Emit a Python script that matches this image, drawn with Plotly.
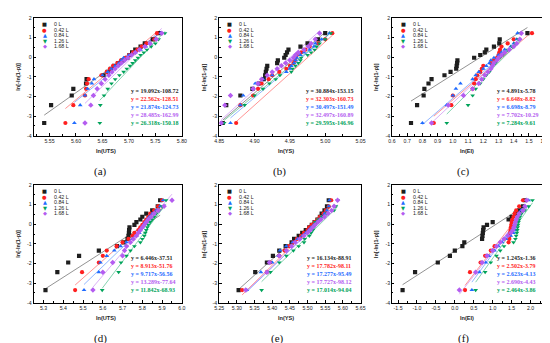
import plotly.graph_objects as go

W, H = 550, 343

# ---------------- data ----------------
# Weibull plotting positions ln[-ln(1-p)] (20 ranks, same for every series)
Y_RANK = [-3.35, -2.44, -1.95, -1.61, -1.34, -1.12, -0.92, -0.75, -0.59, -0.44,
          -0.30, -0.16, -0.03, 0.11, 0.24, 0.38, 0.54, 0.70, 0.91, 1.22]

SERIES = ["0 L", "0.42 L", "0.84 L", "1.26 L", "1.68 L"]

Y_TICKS = [-4, -3, -2, -1, 0, 1, 2]
Y_TICKTEXT = ["-4", "-3", "-2", "-1", "0", "1", "2"]

# (a) ln(UTS)
A_0L = [5.540, 5.553, 5.592, 5.595, 5.619, 5.620, 5.652, 5.660, 5.666, 5.672,
        5.680, 5.688, 5.697, 5.701, 5.706, 5.712, 5.722, 5.730, 5.745, 5.758]
A_042L = [5.580, 5.595, 5.617, 5.619, 5.621, 5.624, 5.648, 5.658, 5.664, 5.670,
          5.678, 5.685, 5.693, 5.700, 5.708, 5.716, 5.724, 5.733, 5.748, 5.753]
A_084L = [5.597, 5.608, 5.617, 5.622, 5.630, 5.634, 5.650, 5.660, 5.667, 5.674,
          5.681, 5.686, 5.690, 5.700, 5.712, 5.722, 5.732, 5.740, 5.750, 5.760]
A_126L = [5.645, 5.646, 5.653, 5.660, 5.667, 5.674, 5.682, 5.690, 5.696, 5.702,
          5.707, 5.712, 5.717, 5.722, 5.728, 5.734, 5.742, 5.750, 5.756, 5.768]
A_168L = [5.617, 5.628, 5.633, 5.640, 5.648, 5.655, 5.662, 5.668, 5.674, 5.680,
          5.686, 5.692, 5.698, 5.705, 5.712, 5.720, 5.730, 5.740, 5.752, 5.762]
A_SLOPE = [19.092, 22.562, 21.874, 28.485, 26.318]
A_ICPT = [108.72, 128.51, 124.73, 162.99, 150.18]
A_EQ_OF_SERIES = [0, 1, 2, 3, 4]
A_XTICKS = [5.55, 5.60, 5.65, 5.70, 5.75, 5.80]
A_XTICKTEXT = ["5.55", "5.60", "5.65", "5.70", "5.75", "5.80"]

# (b) ln(YS)
B_0L = [4.855, 4.860, 4.880, 4.897, 4.906, 4.913, 4.915, 4.916, 4.917, 4.918,
        4.932, 4.933, 4.942, 4.944, 4.946, 4.948, 4.965, 4.975, 4.990, 5.000]
B_042L = [4.874, 4.880, 4.898, 4.905, 4.910, 4.920, 4.925, 4.935, 4.945, 4.950,
          4.955, 4.957, 4.958, 4.960, 4.966, 4.972, 4.978, 4.990, 5.000, 5.010]
B_084L = [4.866, 4.880, 4.884, 4.898, 4.901, 4.912, 4.925, 4.945, 4.950, 4.952,
          4.956, 4.958, 4.960, 4.965, 4.970, 4.978, 4.984, 4.986, 4.995, 5.006]
B_126L = [4.857, 4.886, 4.900, 4.912, 4.921, 4.930, 4.936, 4.952, 4.954, 4.958,
          4.962, 4.965, 4.966, 4.975, 4.980, 4.985, 4.988, 4.992, 5.000, 5.008]
B_168L = [4.853, 4.858, 4.866, 4.898, 4.905, 4.910, 4.918, 4.925, 4.932, 4.938,
          4.944, 4.950, 4.955, 4.958, 4.962, 4.970, 4.976, 4.980, 4.986, 4.992]
B_SLOPE = [30.884, 32.303, 30.497, 32.497, 29.595]
B_ICPT = [153.15, 160.73, 151.49, 160.89, 146.96]
B_EQ_OF_SERIES = [0, 1, 2, 4, 3]
B_XTICKS = [4.85, 4.90, 4.95, 5.00, 5.05]
B_XTICKTEXT = ["4.85", "4.90", "4.95", "5.00", "5.05"]

# (c) ln(EI)
C_0L = [0.725, 0.765, 0.808, 0.813, 0.840, 0.860, 0.945, 0.985, 1.022, 1.025,
        1.028, 1.030, 1.140, 1.180, 1.210, 1.220, 1.270, 1.305, 1.308, 1.490]
C_042L = [0.875, 0.990, 1.000, 1.130, 1.140, 1.150, 1.160, 1.180, 1.190, 1.200,
          1.250, 1.270, 1.290, 1.300, 1.305, 1.310, 1.320, 1.360, 1.400, 1.520]
C_084L = [0.800, 0.960, 1.000, 1.020, 1.050, 1.130, 1.150, 1.170, 1.200, 1.220,
          1.240, 1.250, 1.270, 1.300, 1.320, 1.340, 1.380, 1.400, 1.420, 1.425]
C_126L = [0.960, 1.100, 1.130, 1.150, 1.180, 1.200, 1.220, 1.240, 1.250, 1.260,
          1.280, 1.290, 1.310, 1.330, 1.345, 1.360, 1.390, 1.410, 1.430, 1.445]
C_168L = [0.860, 0.970, 1.070, 1.130, 1.170, 1.190, 1.210, 1.230, 1.250, 1.260,
          1.270, 1.290, 1.300, 1.320, 1.340, 1.370, 1.400, 1.420, 1.440, 1.450]
C_SLOPE = [4.891, 6.648, 6.698, 7.702, 7.284]
C_ICPT = [5.78, 8.82, 8.79, 10.29, 9.61]
C_EQ_OF_SERIES = [0, 1, 2, 3, 4]
C_XTICKS = [0.6, 0.7, 0.8, 0.9, 1.0, 1.1, 1.2, 1.3, 1.4, 1.5, 1.6]
C_XTICKTEXT = ["0.6", "0.7", "0.8", "0.9", "1.0", "1.1", "1.2", "1.3", "1.4", "1.5", "1.6"]

# (d) ln(UTS)
D_0L = [5.310, 5.370, 5.425, 5.480, 5.580, 5.672, 5.705, 5.725, 5.730, 5.732,
        5.733, 5.735, 5.760, 5.770, 5.790, 5.800, 5.820, 5.850, 5.878, 5.890]
D_042L = [5.460, 5.495, 5.580, 5.600, 5.620, 5.670, 5.700, 5.730, 5.750, 5.760,
          5.780, 5.790, 5.800, 5.810, 5.820, 5.830, 5.840, 5.860, 5.880, 5.900]
D_084L = [5.505, 5.580, 5.588, 5.620, 5.658, 5.690, 5.720, 5.750, 5.770, 5.785,
          5.790, 5.800, 5.808, 5.815, 5.825, 5.835, 5.850, 5.870, 5.890, 5.905]
D_126L = [5.597, 5.680, 5.692, 5.720, 5.740, 5.760, 5.790, 5.800, 5.810, 5.815,
          5.820, 5.825, 5.830, 5.840, 5.850, 5.860, 5.870, 5.885, 5.900, 5.920]
D_168L = [5.550, 5.600, 5.650, 5.700, 5.710, 5.720, 5.740, 5.755, 5.770, 5.780,
          5.790, 5.800, 5.810, 5.820, 5.830, 5.845, 5.860, 5.880, 5.910, 5.950]
D_SLOPE = [6.446, 8.913, 9.717, 13.289, 11.842]
D_ICPT = [37.51, 51.76, 56.56, 77.64, 68.93]
D_EQ_OF_SERIES = [0, 1, 2, 3, 4]
D_XTICKS = [5.3, 5.4, 5.5, 5.6, 5.7, 5.8, 5.9, 6.0]
D_XTICKTEXT = ["5.3", "5.4", "5.5", "5.6", "5.7", "5.8", "5.9", "6.0"]

# (e) ln(YS)
E_0L = [5.305, 5.352, 5.385, 5.402, 5.420, 5.438, 5.455, 5.462, 5.475, 5.485,
        5.495, 5.505, 5.512, 5.520, 5.528, 5.535, 5.540, 5.548, 5.555, 5.560]
E_042L = [5.315, 5.385, 5.395, 5.420, 5.435, 5.448, 5.460, 5.470, 5.482, 5.490,
          5.500, 5.505, 5.512, 5.520, 5.528, 5.535, 5.545, 5.552, 5.560, 5.567]
E_084L = [5.328, 5.368, 5.400, 5.418, 5.422, 5.440, 5.458, 5.472, 5.485, 5.495,
          5.503, 5.510, 5.518, 5.525, 5.532, 5.540, 5.548, 5.555, 5.560, 5.562]
E_126L = [5.370, 5.395, 5.420, 5.440, 5.460, 5.475, 5.490, 5.492, 5.505, 5.510,
          5.515, 5.518, 5.520, 5.522, 5.530, 5.540, 5.555, 5.575, 5.580, 5.585]
E_168L = [5.325, 5.385, 5.392, 5.420, 5.440, 5.455, 5.465, 5.478, 5.490, 5.500,
          5.508, 5.515, 5.522, 5.530, 5.538, 5.548, 5.558, 5.568, 5.575, 5.585]
E_SLOPE = [16.134, 17.782, 17.277, 17.727, 17.014]
E_ICPT = [88.91, 98.11, 95.49, 98.12, 94.04]
E_EQ_OF_SERIES = [0, 1, 2, 3, 4]
E_XTICKS = [5.25, 5.30, 5.35, 5.40, 5.45, 5.50, 5.55, 5.60, 5.65]
E_XTICKTEXT = ["5.25", "5.30", "5.35", "5.40", "5.45", "5.50", "5.55", "5.60", "5.65"]

# (f) ln(EI)
F_0L = [-1.380, -1.050, -0.450, -0.130, 0.000, 0.200, 0.250, 0.720, 0.730, 0.740,
        0.750, 0.760, 0.850, 1.000, 1.420, 1.500, 1.600, 1.700, 1.800, 1.850]
F_042L = [0.270, 0.400, 0.680, 0.800, 0.950, 1.050, 1.420, 1.440, 1.450, 1.460,
          1.470, 1.480, 1.490, 1.500, 1.520, 1.550, 1.580, 1.620, 1.700, 1.800]
F_084L = [0.450, 0.650, 0.820, 0.900, 1.050, 1.150, 1.250, 1.350, 1.480, 1.550,
          1.580, 1.600, 1.610, 1.620, 1.640, 1.660, 1.700, 1.750, 1.850, 1.950]
F_126L = [0.550, 0.800, 0.950, 1.100, 1.200, 1.300, 1.550, 1.600, 1.620, 1.640,
          1.650, 1.660, 1.670, 1.680, 1.700, 1.720, 1.760, 1.850, 1.950, 2.050]
F_168L = [0.120, 0.550, 0.720, 0.850, 1.000, 1.100, 1.200, 1.300, 1.400, 1.480,
          1.530, 1.560, 1.580, 1.600, 1.620, 1.650, 1.700, 1.800, 1.850, 1.900]
F_SLOPE = [1.245, 2.502, 2.623, 2.690, 2.464]
F_ICPT = [1.36, 3.79, 4.13, 4.43, 3.86]
F_EQ_OF_SERIES = [0, 1, 2, 3, 4]
F_XTICKS = [-1.5, -1.0, -0.5, 0.0, 0.5, 1.0, 1.5, 2.0]
F_XTICKTEXT = ["-1.5", "-1.0", "-0.5", "0.0", "0.5", "1.0", "1.5", "2.0"]

# ---------------- styling ----------------
COLORS = ["#1e1e1e", "#ff1f1f", "#1f6bff", "#00a35a", "#b45cf0"]
EQ_COLORS = ["#1e1e1e", "#ff1f1f", "#1f6bff", "#b45cf0", "#00a35a"]
SYMBOLS = ["square", "circle", "triangle-up", "triangle-down", "diamond"]
GLYPHS = ["■", "●", "▲", "▼", "◆"]
SANS = "Liberation Sans, Arial, sans-serif"
SERIF = "Liberation Serif, Times New Roman, serif"

COL_PX = [(21, 172), (210, 354), (386, 541)]
ROW_PX = [(7, 127), (177, 297)]

PANELS = [
    dict(label="(a)", xt="ln(UTS)", data=[A_0L, A_042L, A_084L, A_126L, A_168L],
         slope=A_SLOPE, icpt=A_ICPT, eqmap=A_EQ_OF_SERIES, xr=[5.52, 5.80],
         tv=A_XTICKS, tt=A_XTICKTEXT, minor=0.025, eqx=0.64, lx=0.45, tx=0.49),
    dict(label="(b)", xt="ln(YS)", data=[B_0L, B_042L, B_084L, B_126L, B_168L],
         slope=B_SLOPE, icpt=B_ICPT, eqmap=B_EQ_OF_SERIES, xr=[4.85, 5.05],
         tv=B_XTICKS, tt=B_XTICKTEXT, minor=0.025, eqx=0.60, lx=0.43, tx=0.47),
    dict(label="(c)", xt="ln(EI)", data=[C_0L, C_042L, C_084L, C_126L, C_168L],
         slope=C_SLOPE, icpt=C_ICPT, eqmap=C_EQ_OF_SERIES, xr=[0.6, 1.6],
         tv=C_XTICKS, tt=C_XTICKTEXT, minor=0.05, eqx=0.68, lx=0.47, tx=0.49),
    dict(label="(d)", xt="ln(UTS)", data=[D_0L, D_042L, D_084L, D_126L, D_168L],
         slope=D_SLOPE, icpt=D_ICPT, eqmap=D_EQ_OF_SERIES, xr=[5.25, 6.0],
         tv=D_XTICKS, tt=D_XTICKTEXT, minor=0.05, eqx=0.64, lx=0.45, tx=0.49),
    dict(label="(e)", xt="ln(YS)", data=[E_0L, E_042L, E_084L, E_126L, E_168L],
         slope=E_SLOPE, icpt=E_ICPT, eqmap=E_EQ_OF_SERIES, xr=[5.25, 5.65],
         tv=E_XTICKS, tt=E_XTICKTEXT, minor=0.025, eqx=0.61, lx=0.41, tx=0.47),
    dict(label="(f)", xt="ln(EI)", data=[F_0L, F_042L, F_084L, F_126L, F_168L],
         slope=F_SLOPE, icpt=F_ICPT, eqmap=F_EQ_OF_SERIES, xr=[-1.66, 2.36],
         tv=F_XTICKS, tt=F_XTICKTEXT, minor=0.25, eqx=0.68, lx=0.47, tx=0.49),
]

fig = go.Figure()
annotations = []
layout_axes = {}

for p, P in enumerate(PANELS):
    n = p + 1
    xa = "x" if n == 1 else f"x{n}"
    ya = "y" if n == 1 else f"y{n}"
    c0, c1 = COL_PX[p % 3]
    r0, r1 = ROW_PX[p // 3]
    xdom = [c0 / W, c1 / W]
    ydom = [1 - r1 / H, 1 - r0 / H]

    # fitted straight lines (from the printed equations, over each series' x-span)
    for i, xs in enumerate(P["data"]):
        k = P["eqmap"][i]
        xl = [min(xs), max(xs)]
        yl = [P["slope"][k] * v - P["icpt"][k] for v in xl]
        fig.add_trace(go.Scatter(x=xl, y=yl, mode="lines", xaxis=xa, yaxis=ya,
                                 line=dict(color=COLORS[i], width=0.8),
                                 opacity=0.6, showlegend=False, hoverinfo="skip"))
    # data points
    for i, xs in enumerate(P["data"]):
        fig.add_trace(go.Scatter(x=xs, y=Y_RANK, mode="markers", name=SERIES[i],
                                 xaxis=xa, yaxis=ya, showlegend=False,
                                 marker=dict(symbol=SYMBOLS[i], size=4.2,
                                             color=COLORS[i], line=dict(width=0))))

    axis_common = dict(showline=True, linecolor="black", linewidth=0.8, mirror=True,
                       showgrid=False, zeroline=False, ticks="inside", ticklen=2.5,
                       tickwidth=0.6, tickcolor="black",
                       tickfont=dict(family=SANS, size=5.2, color="#222"))
    layout_axes["xaxis" if n == 1 else f"xaxis{n}"] = dict(
        axis_common, domain=xdom, anchor=ya, range=P["xr"], tickmode="array",
        tickvals=P["tv"], ticktext=P["tt"],
        minor=dict(ticks="inside", ticklen=1.5, tickwidth=0.5, tickcolor="black",
                   dtick=P["minor"], tick0=P["tv"][0]))
    layout_axes["yaxis" if n == 1 else f"yaxis{n}"] = dict(
        axis_common, domain=ydom, anchor=xa, range=[-4, 2], tickmode="array",
        tickvals=Y_TICKS, ticktext=Y_TICKTEXT,
        minor=dict(ticks="inside", ticklen=1.5, tickwidth=0.5, tickcolor="black",
                   dtick=0.5, tick0=-4))

    # in-plot legend (symbol + label)
    for i in range(5):
        yy = 0.946 - 0.047 * i
        annotations.append(dict(xref=f"{xa} domain", yref=f"{ya} domain", x=0.075, y=yy,
                                text=GLYPHS[i], showarrow=False, xanchor="center",
                                yanchor="middle",
                                font=dict(family="DejaVu Sans", size=5.2, color=COLORS[i])))
        annotations.append(dict(xref=f"{xa} domain", yref=f"{ya} domain", x=0.125, y=yy,
                                text=SERIES[i], showarrow=False, xanchor="left",
                                yanchor="middle",
                                font=dict(family=SANS, size=5.3, color="#222")))
    # equations
    for k in range(5):
        txt = f"y = {P['slope'][k]:.3f}x-{P['icpt'][k]:.2f}"
        annotations.append(dict(xref=f"{xa} domain", yref=f"{ya} domain", x=P["eqx"],
                                y=0.383 - 0.069 * k, text=f"<b>{txt}</b>", showarrow=False,
                                xanchor="left", yanchor="middle",
                                font=dict(family=SERIF, size=6.0, color=EQ_COLORS[k])))
    # axis titles and panel label
    annotations.append(dict(xref="paper", yref="paper", x=(c0 - 16) / W,
                            y=1 - (r0 + r1) / 2 / H, text="<b>ln[-ln(1-p)]</b>",
                            textangle=-90, showarrow=False, xanchor="center",
                            yanchor="middle", font=dict(family=SANS, size=5.6, color="#222")))
    annotations.append(dict(xref="paper", yref="paper", x=(c0 + P["tx"] * (c1 - c0)) / W,
                            y=1 - (r1 + 15) / H, text=f"<b>{P['xt']}</b>", showarrow=False,
                            xanchor="center", yanchor="middle",
                            font=dict(family=SANS, size=5.6, color="#222")))
    annotations.append(dict(xref="paper", yref="paper", x=(c0 + P["lx"] * (c1 - c0)) / W,
                            y=1 - (r1 + 36) / H, text=P["label"], showarrow=False,
                            xanchor="center", yanchor="middle",
                            font=dict(family=SERIF, size=11, color="#111")))

fig.update_layout(width=W, height=H, margin=dict(l=0, r=0, t=0, b=0),
                  paper_bgcolor="white", plot_bgcolor="white", showlegend=False,
                  annotations=annotations, **layout_axes)

fig.write_html("out.html")
